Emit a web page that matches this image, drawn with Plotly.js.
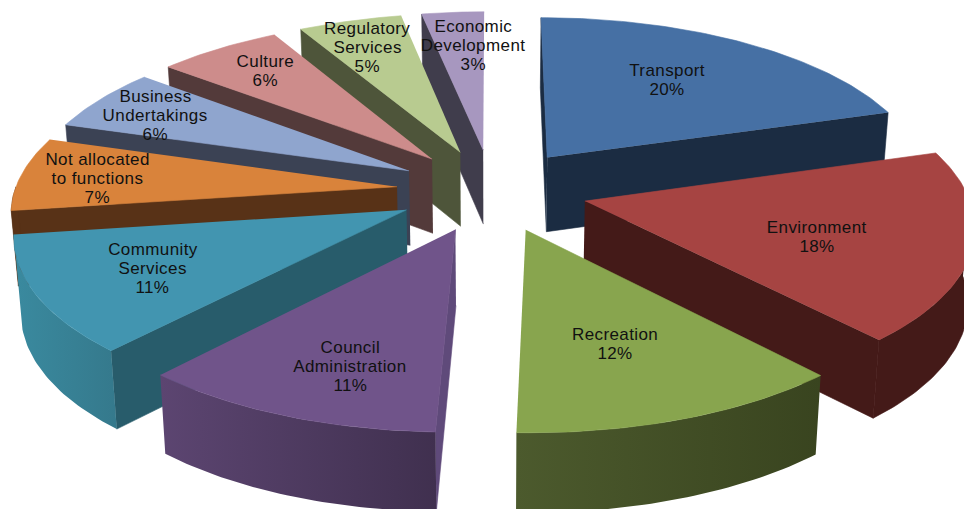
<!DOCTYPE html>
<html>
<head>
<meta charset="utf-8">
<script src="https://cdn.plot.ly/plotly-3.0.1.min.js"></script>
<style>
html,body{margin:0;padding:0;background:#fff}
#chart{width:964px;height:509px}
#chart text.annotation-text{letter-spacing:.4px}
</style>
</head>
<body>
<div id="chart"></div>
<script>
// Expenditure shares (percent), clockwise from twelve o'clock
const categories = ['Transport','Environment','Recreation','Council<br>Administration','Community<br>Services',
  'Not allocated<br>to functions','Business<br>Undertakings','Culture','Regulatory<br>Services','Economic<br>Development'];
const shares = [20,18,12,11,11,7,6,6,5,3];

const topColors  = ['#4670a4','#a64442','#88a54e','#70548a','#4295b0','#d9833b','#8fa5ce','#cd8c8b','#b8cb90','#a797bf'];
const sideColors = ['#1b2c42','#441a18','#3a451f','#5f4a7a','#285c6b','#583217','#3b4254','#533a3a','#4e553a','#403d4c'];
const rimStart   = ['#1b2c42','#441a18','#4c5a2d','#5c4571','#3a8a9f','#583217','#3b4254','#533a3a','#4e553a','#403d4c'];
const rimEnd     = ['#1b2c42','#441a18','#39441f','#40304f','#35798c','#583217','#3b4254','#533a3a','#4e553a','#403d4c'];
const labelX = [666.5,816.5,615,350,152.5,97,155,265,367.5,473];
const labelY = [80,237,343.5,366,268.5,178.5,115,71,47,45.5];

// Perspective of the tilted, exploded pie on the plotting area
const view = {cx:492, cy:190, sx:382, sy:165.5, k:0.128, explode:0.25, depth:75, depthTilt:4, taper:0.985};
const lineGap = 19;
const rad = d => d*Math.PI/180;

function project(px, py){
  const w = 1 + view.k*py;
  return [view.cx + view.sx*px/w, view.cy - view.sy*py/w];
}
function lowered(px, py){
  const p = project(px, py);
  return [view.cx + (p[0]-view.cx)*view.taper, p[1] + view.depth - view.depthTilt*py];
}
function polygon(points, color, gradient){
  const t = {
    type:'scatter', mode:'lines', hoverinfo:'skip', showlegend:false,
    x:points.map(p=>p[0]), y:points.map(p=>p[1]),
    fill:'toself', fillcolor:color, line:{width:0.6, color:color}
  };
  if(gradient && gradient[0]!==gradient[1]){
    t.fillgradient = {type:'horizontal', colorscale:[[0,gradient[0]],[1,gradient[1]]]};
    t.line = {width:0};
  }
  return t;
}

const total = shares.reduce((a,b)=>a+b,0);
let running = 0;
const wedges = shares.map((v,i)=>{
  const a0 = running/total*360; running += v; const a1 = running/total*360;
  const mid = (a0+a1)/2;
  return {i, a0, a1, ox:view.explode*Math.sin(rad(mid)), oy:view.explode*Math.cos(rad(mid))};
});

function rimPoint(w, a){ return [w.ox+Math.sin(rad(a)), w.oy+Math.cos(rad(a))]; }
function arcAngles(a0, a1){
  const out = [];
  for(let a=a0; a<a1; a+=1) out.push(a);
  out.push(a1);
  return out;
}

function wedgeTraces(w){
  const traces = [];
  const tipTop = project(w.ox,w.oy), tipLow = lowered(w.ox,w.oy);
  // Radial walls: the leading edge shows on the left half, the trailing edge on the right half
  const showLeading = Math.sin(rad(w.a0)) <= 0;
  const showTrailing = Math.sin(rad(w.a1)) > 0;
  [[w.a0,showLeading],[w.a1,showTrailing]].forEach(([a,show])=>{
    if(!show) return;
    const r = rimPoint(w,a);
    traces.push(polygon([tipTop, project(r[0],r[1]), lowered(r[0],r[1]), tipLow], sideColors[w.i]));
  });
  // Outer wall, only where it faces the viewer
  const f0 = Math.max(w.a0,90), f1 = Math.min(w.a1,270);
  if(f1>f0){
    const angles = arcAngles(f0,f1);
    const upper = angles.map(a=>{const r=rimPoint(w,a);return project(r[0],r[1]);});
    const lower = angles.map(a=>{const r=rimPoint(w,a);return lowered(r[0],r[1]);}).reverse();
    traces.push(polygon(upper.concat(lower), rimEnd[w.i], [rimStart[w.i],rimEnd[w.i]]));
  }
  // Top face
  const face = [tipTop].concat(arcAngles(w.a0,w.a1).map(a=>{const r=rimPoint(w,a);return project(r[0],r[1]);}));
  traces.push(polygon(face, topColors[w.i]));
  return traces;
}

// Painter's order: wedges nearest the back first
const order = [9,8,7,6,5,0,4,1,3,2];
const data = [];
order.forEach(i=>wedgeTraces(wedges[i]).forEach(t=>data.push(t)));

// One annotation per text line keeps the line spacing tight
const annotations = [];
categories.forEach((c,i)=>{
  const lines = c.split('<br>').concat([shares[i]+'%']);
  lines.forEach((text,j)=>annotations.push({
    x:labelX[i], y:labelY[i]+(j-(lines.length-1)/2)*lineGap, xref:'x', yref:'y',
    showarrow:false, align:'center', text,
    font:{family:'"Liberation Sans", Arial, sans-serif', size:17, color:'#111'}
  }));
});

Plotly.newPlot('chart', data, {
  width:964, height:509, margin:{l:0,r:0,t:0,b:0},
  paper_bgcolor:'#ffffff', plot_bgcolor:'#ffffff', showlegend:false,
  xaxis:{visible:false, range:[0,964], fixedrange:true},
  yaxis:{visible:false, range:[509,0], fixedrange:true},
  annotations
}, {displayModeBar:false, staticPlot:true});
</script>
</body>
</html>
